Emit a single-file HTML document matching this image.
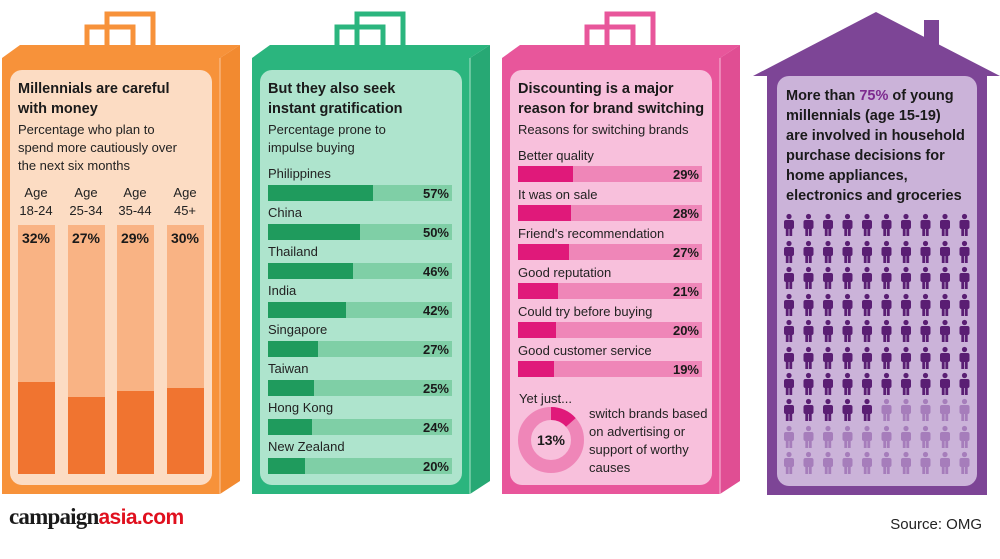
<!DOCTYPE html>
<html><head><meta charset="utf-8"><style>
html,body{margin:0;padding:0;background:#fff;}
svg text{font-family:"Liberation Sans",sans-serif;}
.h{font-weight:bold;font-size:14.5px;fill:#1a1a1a}
.b{font-size:13px;fill:#222}
.p{font-weight:bold;font-size:13px;fill:#1a1a1a}
</style></head><body>
<svg width="1000" height="554" viewBox="0 0 1000 554" xmlns="http://www.w3.org/2000/svg">
<defs>
<g id="man"><circle cx="6" cy="2.5" r="2.6"/><rect x="1" y="6" width="10" height="9" rx="2"/><rect x="2.8" y="13" width="2.8" height="9"/><rect x="6.4" y="13" width="2.8" height="9"/></g>
<g id="row"><use href="#man" x="783"/><use href="#man" x="802.5"/><use href="#man" x="822"/><use href="#man" x="841.5"/><use href="#man" x="861"/><use href="#man" x="880.5"/><use href="#man" x="900"/><use href="#man" x="919.5"/><use href="#man" x="939"/><use href="#man" x="958.5"/></g>
</defs>
<!-- ORANGE BAG -->
<g>
<rect x="87" y="27" width="46" height="25" fill="none" stroke="#f7923a" stroke-width="5"/>
<rect x="107" y="14" width="46" height="35" fill="none" stroke="#f7923a" stroke-width="5"/>
<polygon points="2,58 20,45 240,45 220,58" fill="#f7923a"/>
<rect x="2" y="58" width="218" height="436" fill="#f7923a"/>
<polygon points="220,58 240,45 240,481 220,494" fill="#f28a30"/>
<line x1="220" y1="58" x2="220" y2="494" stroke="#fbc79c" stroke-width="1"/>
<rect x="10" y="70" width="202" height="415" rx="12" fill="#fcdcc3"/>
<text x="18" y="93" class="h">Millennials are careful</text>
<text x="18" y="113" class="h">with money</text>
<text x="18" y="134" class="b">Percentage who plan to</text>
<text x="18" y="152" class="b">spend more cautiously over</text>
<text x="18" y="170" class="b">the next six months</text>
<g class="b" text-anchor="middle">
<text x="36" y="197">Age</text><text x="36" y="215">18-24</text>
<text x="86" y="197">Age</text><text x="86" y="215">25-34</text>
<text x="135" y="197">Age</text><text x="135" y="215">35-44</text>
<text x="185" y="197">Age</text><text x="185" y="215">45+</text>
</g>
<g fill="#f9b384">
<rect x="18" y="225" width="37" height="249"/><rect x="68" y="225" width="37" height="249"/>
<rect x="117" y="225" width="37" height="249"/><rect x="167" y="225" width="37" height="249"/>
</g>
<g fill="#f07430">
<rect x="18" y="382" width="37" height="92"/><rect x="68" y="397" width="37" height="77"/>
<rect x="117" y="391" width="37" height="83"/><rect x="167" y="388" width="37" height="86"/>
</g>
<g class="p" text-anchor="middle" style="font-size:14px">
<text x="36" y="243">32%</text><text x="86" y="243">27%</text><text x="135" y="243">29%</text><text x="185" y="243">30%</text>
</g>
</g>
<!-- GREEN BAG -->
<g>
<rect x="337" y="27" width="46" height="25" fill="none" stroke="#2bb57e" stroke-width="5"/>
<rect x="357" y="14" width="46" height="35" fill="none" stroke="#2bb57e" stroke-width="5"/>
<polygon points="252,58 270,45 490,45 470,58" fill="#2bb57e"/>
<rect x="252" y="58" width="218" height="436" fill="#2bb57e"/>
<polygon points="470,58 490,45 490,481 470,494" fill="#27a874"/>
<line x1="470" y1="58" x2="470" y2="494" stroke="#a8e3c9" stroke-width="1"/>
<rect x="260" y="70" width="202" height="415" rx="12" fill="#aee4cd"/>
<text x="268" y="93" class="h">But they also seek</text>
<text x="268" y="113" class="h">instant gratification</text>
<text x="268" y="134" class="b">Percentage prone to</text>
<text x="268" y="152" class="b">impulse buying</text>
<text x="268" y="178" class="b">Philippines</text><rect x="268" y="185" width="184" height="16" fill="#7fcfa6"/><rect x="268" y="185" width="105" height="16" fill="#1f9b5d"/><text x="449" y="198" class="p" text-anchor="end">57%</text>
<text x="268" y="217" class="b">China</text><rect x="268" y="224" width="184" height="16" fill="#7fcfa6"/><rect x="268" y="224" width="92" height="16" fill="#1f9b5d"/><text x="449" y="237" class="p" text-anchor="end">50%</text>
<text x="268" y="256" class="b">Thailand</text><rect x="268" y="263" width="184" height="16" fill="#7fcfa6"/><rect x="268" y="263" width="85" height="16" fill="#1f9b5d"/><text x="449" y="276" class="p" text-anchor="end">46%</text>
<text x="268" y="295" class="b">India</text><rect x="268" y="302" width="184" height="16" fill="#7fcfa6"/><rect x="268" y="302" width="78" height="16" fill="#1f9b5d"/><text x="449" y="315" class="p" text-anchor="end">42%</text>
<text x="268" y="334" class="b">Singapore</text><rect x="268" y="341" width="184" height="16" fill="#7fcfa6"/><rect x="268" y="341" width="50" height="16" fill="#1f9b5d"/><text x="449" y="354" class="p" text-anchor="end">27%</text>
<text x="268" y="373" class="b">Taiwan</text><rect x="268" y="380" width="184" height="16" fill="#7fcfa6"/><rect x="268" y="380" width="46" height="16" fill="#1f9b5d"/><text x="449" y="393" class="p" text-anchor="end">25%</text>
<text x="268" y="412" class="b">Hong Kong</text><rect x="268" y="419" width="184" height="16" fill="#7fcfa6"/><rect x="268" y="419" width="44" height="16" fill="#1f9b5d"/><text x="449" y="432" class="p" text-anchor="end">24%</text>
<text x="268" y="451" class="b">New Zealand</text><rect x="268" y="458" width="184" height="16" fill="#7fcfa6"/><rect x="268" y="458" width="37" height="16" fill="#1f9b5d"/><text x="449" y="471" class="p" text-anchor="end">20%</text>
</g>
<!-- PINK BAG -->
<g>
<rect x="587" y="27" width="46" height="25" fill="none" stroke="#e8569b" stroke-width="5"/>
<rect x="607" y="14" width="46" height="35" fill="none" stroke="#e8569b" stroke-width="5"/>
<polygon points="502,58 520,45 740,45 720,58" fill="#e8569b"/>
<rect x="502" y="58" width="218" height="436" fill="#e8569b"/>
<polygon points="720,58 740,45 740,481 720,494" fill="#e04e93"/>
<line x1="720" y1="58" x2="720" y2="494" stroke="#f7bcd8" stroke-width="1"/>
<rect x="510" y="70" width="202" height="415" rx="12" fill="#f8c0dc"/>
<text x="518" y="93" class="h">Discounting is a major</text>
<text x="518" y="113" class="h">reason for brand switching</text>
<text x="518" y="134" class="b">Reasons for switching brands</text>
<text x="518" y="160" class="b">Better quality</text><rect x="518" y="166" width="184" height="16" fill="#ef86b8"/><rect x="518" y="166" width="55" height="16" fill="#e0197a"/><text x="699" y="179" class="p" text-anchor="end">29%</text>
<text x="518" y="199" class="b">It was on sale</text><rect x="518" y="205" width="184" height="16" fill="#ef86b8"/><rect x="518" y="205" width="53" height="16" fill="#e0197a"/><text x="699" y="218" class="p" text-anchor="end">28%</text>
<text x="518" y="238" class="b">Friend's recommendation</text><rect x="518" y="244" width="184" height="16" fill="#ef86b8"/><rect x="518" y="244" width="51" height="16" fill="#e0197a"/><text x="699" y="257" class="p" text-anchor="end">27%</text>
<text x="518" y="277" class="b">Good reputation</text><rect x="518" y="283" width="184" height="16" fill="#ef86b8"/><rect x="518" y="283" width="40" height="16" fill="#e0197a"/><text x="699" y="296" class="p" text-anchor="end">21%</text>
<text x="518" y="316" class="b">Could try before buying</text><rect x="518" y="322" width="184" height="16" fill="#ef86b8"/><rect x="518" y="322" width="38" height="16" fill="#e0197a"/><text x="699" y="335" class="p" text-anchor="end">20%</text>
<text x="518" y="355" class="b">Good customer service</text><rect x="518" y="361" width="184" height="16" fill="#ef86b8"/><rect x="518" y="361" width="36" height="16" fill="#e0197a"/><text x="699" y="374" class="p" text-anchor="end">19%</text>
<text x="519" y="403" class="b">Yet just...</text>
<circle cx="551" cy="440" r="26.5" fill="none" stroke="#ef86b8" stroke-width="13"/>
<path d="M551,407 A33,33 0 0 1 575.7,418.1 L566,426.7 A20,20 0 0 0 551,420 Z" fill="#e0197a"/>
<text x="551" y="445" class="p" text-anchor="middle" style="font-size:14px">13%</text>
<text x="589" y="418" class="b">switch brands based</text>
<text x="589" y="436" class="b">on advertising or</text>
<text x="589" y="454" class="b">support of worthy</text>
<text x="589" y="472" class="b">causes</text>
</g>
<!-- PURPLE HOUSE -->
<g>
<rect x="924" y="20" width="15" height="30" fill="#7d4596"/>
<polygon points="753,76 876,12 1000,76" fill="#7d4596"/>
<rect x="767" y="70" width="220" height="425" fill="#7d4596"/>
<rect x="777" y="76" width="200" height="410" rx="12" fill="#cbb3d9"/>
<text x="786" y="100" class="h">More than <tspan fill="#7d2a8f">75%</tspan> of young</text>
<text x="786" y="120" class="h">millennials (age 15-19)</text>
<text x="786" y="140" class="h">are involved in household</text>
<text x="786" y="160" class="h">purchase decisions for</text>
<text x="786" y="180" class="h">home appliances,</text>
<text x="786" y="200" class="h">electronics and groceries</text>
<g fill="#5a1e73">
<use href="#row" y="214"/><use href="#row" y="241"/><use href="#row" y="267"/><use href="#row" y="294"/><use href="#row" y="320"/><use href="#row" y="347"/><use href="#row" y="373"/>
<g transform="translate(0,399)"><use href="#man" x="783"/><use href="#man" x="802.5"/><use href="#man" x="822"/><use href="#man" x="841.5"/><use href="#man" x="861"/></g>
</g>
<g fill="#a67dbb">
<g transform="translate(0,399)"><use href="#man" x="880.5"/><use href="#man" x="900"/><use href="#man" x="919.5"/><use href="#man" x="939"/><use href="#man" x="958.5"/></g>
<use href="#row" y="426"/><use href="#row" y="452"/>
</g>
</g>
<!-- footer -->
<text x="9" y="524" fill="#1a1a1a"><tspan style="font-family:'Liberation Serif',serif;font-weight:bold;font-size:23px;letter-spacing:-0.8px">campaign</tspan><tspan fill="#e0101e" style="font-weight:bold;font-size:21px;letter-spacing:-0.6px">asia.com</tspan></text>
<text x="982" y="529" text-anchor="end" style="font-size:15px" fill="#222">Source: OMG</text>
</svg>
</body></html>
